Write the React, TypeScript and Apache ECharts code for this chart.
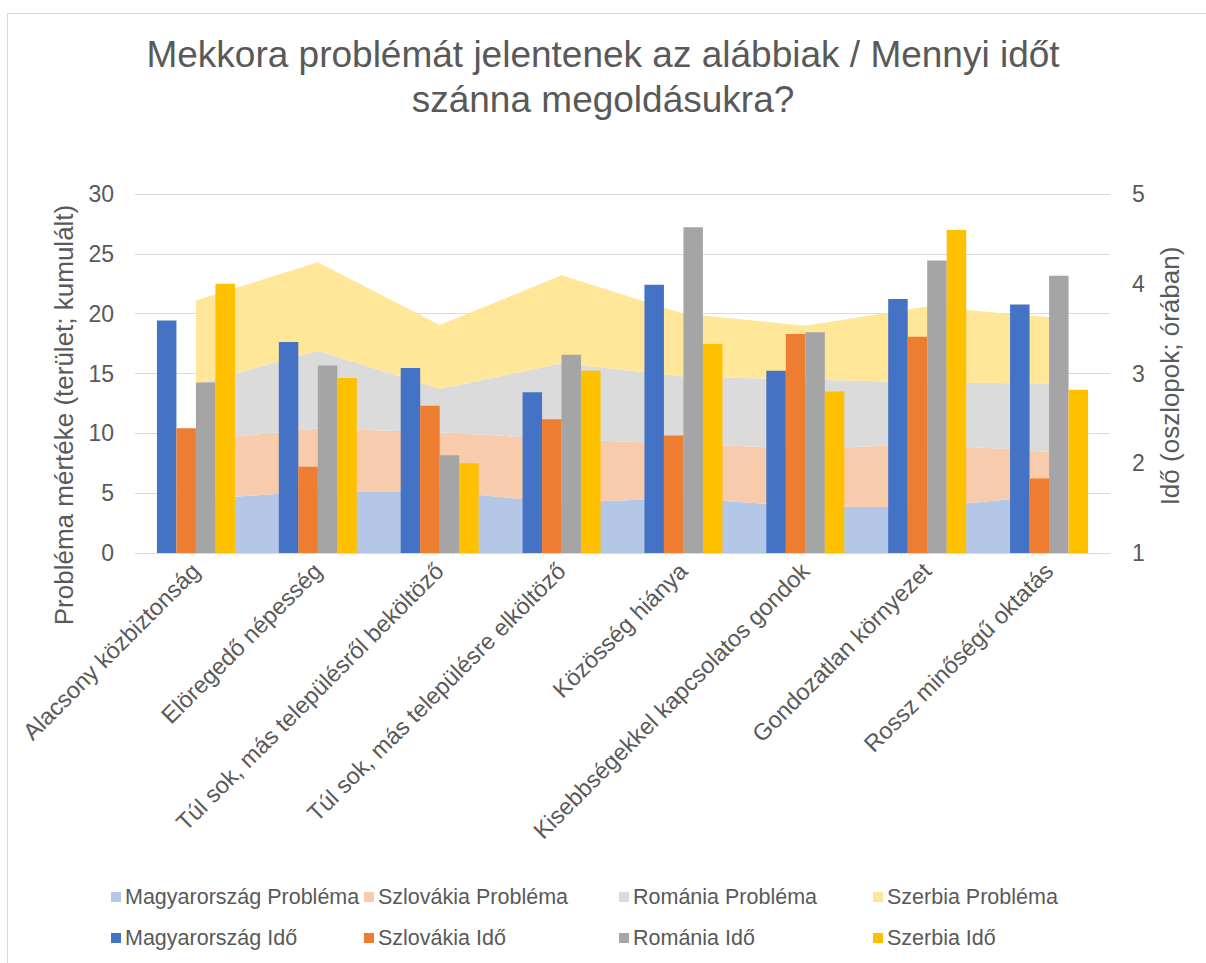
import React, { useEffect, useRef } from "react";
import * as echarts from "echarts";

const categories = [
  "Alacsony közbiztonság",
  "Elöregedő népesség",
  "Túl sok, más településről beköltöző",
  "Túl sok, más településre elköltöző",
  "Közösség hiánya",
  "Kisebbségekkel kapcsolatos gondok",
  "Gondozatlan környezet",
  "Rossz minőségű oktatás",
];

// Problem magnitude (stacked areas, left axis)
const huProblem = [4.5, 5.15, 5.15, 4.2, 4.6, 3.87, 3.85, 4.8];
const skProblem = [4.9, 5.25, 4.95, 5.3, 4.52, 4.84, 5.23, 3.66];
const roProblem = [4.7, 6.5, 3.6, 6.35, 5.63, 5.79, 5.17, 5.69];
const rsProblem = [7.0, 7.4, 5.35, 7.35, 5.25, 4.5, 6.35, 5.55];

// Time in hours (bars, right axis)
const huTime = [3.59, 3.35, 3.06, 2.79, 3.99, 3.03, 3.83, 3.77];
const skTime = [2.39, 1.96, 2.64, 2.49, 2.31, 3.44, 3.41, 1.83];
const roTime = [2.9, 3.09, 2.09, 3.21, 4.63, 3.46, 4.26, 4.09];
const rsTime = [4.0, 2.95, 2.0, 3.03, 3.33, 2.8, 4.6, 2.82];

const problemNames = [
  "Magyarország Probléma",
  "Szlovákia Probléma",
  "Románia Probléma",
  "Szerbia Probléma",
];
const timeNames = [
  "Magyarország Idő",
  "Szlovákia Idő",
  "Románia Idő",
  "Szerbia Idő",
];

const leftTicks = [0, 30, 5];
const rightTicks = [1, 5, 1];

const areaColors = ["#B4C7E7", "#F8CBAD", "#DBDBDB", "#FFE699"];
const barColors = ["#4472C4", "#ED7D31", "#A5A5A5", "#FFC000"];

const FONT = "'Liberation Sans', Arial, sans-serif";
const TEXT = "#595959";

export default function App() {
  const ref = useRef<HTMLDivElement>(null);

  useEffect(() => {
    if (!ref.current) return;
    const chart = echarts.init(ref.current, null, { renderer: "svg" });
    const problems = [huProblem, skProblem, roProblem, rsProblem];
    const times = [huTime, skTime, roTime, rsTime];
    const legendLefts = [111, 364, 619, 873];

    const option: any = {
      animation: false,
      backgroundColor: "#ffffff",
      textStyle: { fontFamily: FONT },
      title: {
        text: "Mekkora problémát jelentenek az alábbiak / Mennyi időt\nszánna megoldásukra?",
        left: "center",
        top: 27,
        padding: [5, 5, 5, 23],
        textStyle: {
          fontFamily: FONT,
          fontSize: 37,
          fontWeight: "normal",
          color: TEXT,
          lineHeight: 45,
        },
      },
      legend: legendLefts.map((l, i) => ({
        orient: "vertical",
        left: l,
        top: 886,
        itemWidth: 10,
        itemHeight: 10,
        itemGap: 19,
        icon: "rect",
        padding: 0,
        data: [problemNames[i], timeNames[i]],
        textStyle: { fontFamily: FONT, fontSize: 21.5, color: TEXT, padding: [0, 0, 0, -1] },
      })),
      grid: { left: 135, right: 96, top: 194, bottom: 410 },
      xAxis: {
        type: "category",
        data: categories,
        boundaryGap: true,
        axisLine: { show: true, lineStyle: { color: "#D9D9D9" } },
        axisTick: { show: false },
        axisLabel: {
          interval: 0,
          rotate: 45,
          margin: 14,
          fontFamily: FONT,
          fontSize: 23.5,
          color: TEXT,
        },
      },
      yAxis: [
        {
          type: "value",
          min: leftTicks[0],
          max: leftTicks[1],
          interval: leftTicks[2],
          axisLine: { show: false },
          axisTick: { show: false },
          splitLine: { lineStyle: { color: "#D9D9D9", width: 1 } },
          axisLabel: { margin: 21, fontFamily: FONT, fontSize: 23, color: TEXT },
        },
        {
          type: "value",
          min: rightTicks[0],
          max: rightTicks[1],
          interval: rightTicks[2],
          axisLine: { show: false },
          axisTick: { show: false },
          splitLine: { show: false },
          axisLabel: { margin: 22, fontFamily: FONT, fontSize: 23, color: TEXT },
        },
      ],
      graphic: [
        {
          type: "rect",
          silent: true,
          z: -10,
          shape: { x: 7.5, y: 13.5, width: 1300, height: 1000 },
          style: { fill: "none", stroke: "#D9D9D9", lineWidth: 1 },
        },
        {
          type: "text",
          x: 64,
          y: 415,
          rotation: Math.PI / 2,
          style: {
            text: "Probléma mértéke (terület; kumulált)",
            fontFamily: FONT,
            fontSize: 26,
            fill: TEXT,
            align: "center",
            verticalAlign: "middle",
          },
        },
        {
          type: "text",
          x: 1170,
          y: 376,
          rotation: Math.PI / 2,
          style: {
            text: "Idő (oszlopok; órában)",
            fontFamily: FONT,
            fontSize: 26,
            fill: TEXT,
            align: "center",
            verticalAlign: "middle",
          },
        },
      ],
      series: [
        ...problems.map((d, i) => ({
          name: problemNames[i],
          type: "line",
          stack: "problem",
          data: d,
          yAxisIndex: 0,
          z: 1,
          symbol: "none",
          showSymbol: false,
          color: areaColors[i],
          lineStyle: { width: 0, color: areaColors[i] },
          areaStyle: { color: areaColors[i], opacity: 1 },
          itemStyle: { color: areaColors[i] },
          emphasis: { disabled: true },
        })),
        ...times.map((d, i) => ({
          name: timeNames[i],
          type: "bar",
          data: d,
          yAxisIndex: 1,
          z: 3,
          barGap: "0%",
          barCategoryGap: "36%",
          itemStyle: { color: barColors[i] },
          emphasis: { disabled: true },
        })),
      ],
    };
    chart.setOption(option);
    return () => chart.dispose();
  }, []);

  return (
    <div
      ref={ref}
      style={{ position: "fixed", left: 0, top: 0, width: 1206, height: 963, background: "#fff" }}
    />
  );
}
